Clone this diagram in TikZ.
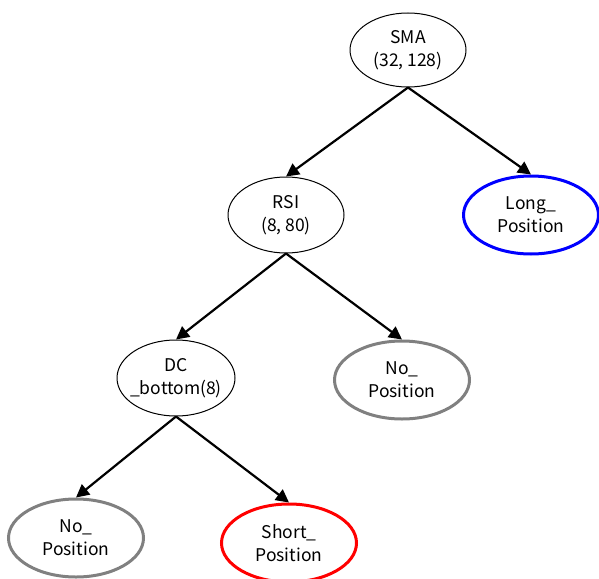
\documentclass[tikz,border=0pt]{standalone}
\usepackage{fontspec}
\setmainfont{Noto Sans CJK JP}
\usetikzlibrary{shapes.geometric,arrows.meta}
\tikzset{
  state/.style={ellipse, draw, line width=1pt, inner sep=0pt, align=center,
    font=\fontsize{17.5}{23}\selectfont},
  split/.style={state, minimum width=116pt, minimum height=74pt},
  leaf/.style={state, line width=3pt, minimum width=135pt, minimum height=78pt},
  branch/.style={-{Triangle[length=13pt,width=13pt]}, line width=2.2pt},
}
\begin{document}
\begin{tikzpicture}[x=1pt, y=-1pt]
  \useasboundingbox (0,0) rectangle (599,578);
  % split nodes
  \node[split] (sma) at (408,50) {SMA\\(32, 128)};
  \node[split, minimum height=76pt] (rsi) at (286,215) {RSI\\(8, 80)};
  \node[split, inner xsep=-7pt, minimum width=118pt, minimum height=76pt] (dc) at (176,378) {DC\\\_bottom(8)};
  % leaves
  \node[leaf, draw=blue] (long) at (531,215) {Long\_\\Position};
  \node[leaf, draw=gray] (nomid) at (402,380) {No\_\\Position};
  \node[leaf, draw=gray] (nolow) at (76,538) {No\_\\Position};
  \node[leaf, draw=red] (short) at (289,543) {Short\_\\Position};
  % branches
  \draw[branch] (sma.south) -- (rsi.north);
  \draw[branch] (sma.south) -- (long.north);
  \draw[branch] (rsi.south) -- (dc.north);
  \draw[branch] (rsi.south) -- (nomid.north);
  \draw[branch] (dc.south) -- (nolow.north);
  \draw[branch] (dc.south) -- (short.north);
\end{tikzpicture}
\end{document}
